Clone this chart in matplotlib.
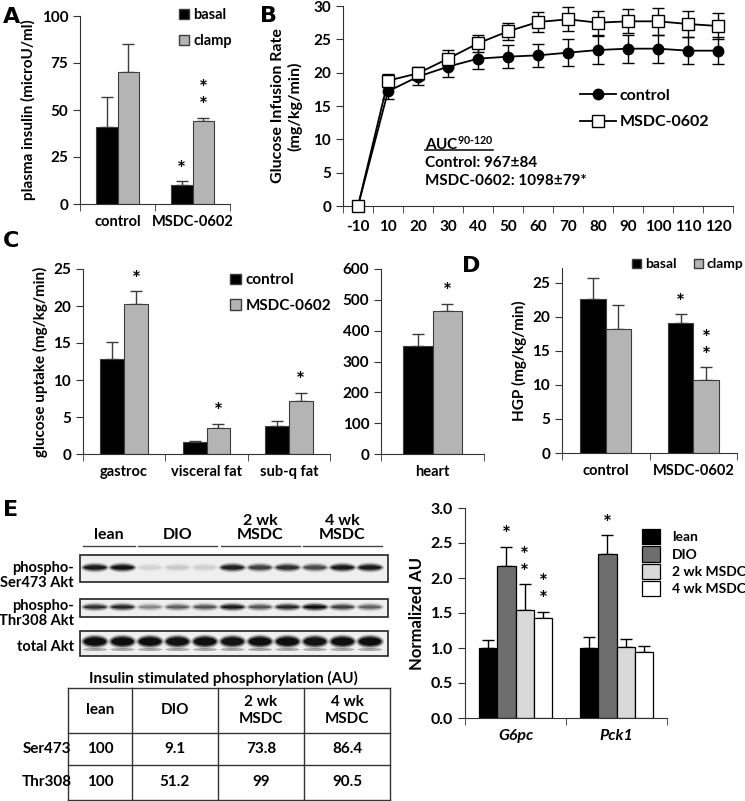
import matplotlib
matplotlib.use('Agg')
import matplotlib.pyplot as plt
from matplotlib.patches import Rectangle, Ellipse, Patch
import numpy as np

plt.rcParams['font.family'] = ['Lato', 'DejaVu Sans']
plt.rcParams['font.weight'] = 'bold'
plt.rcParams['axes.labelweight'] = 'bold'
plt.rcParams['font.size'] = 10.5
plt.rcParams['mathtext.fontset'] = 'custom'
plt.rcParams['mathtext.rm'] = 'Lato:bold'
plt.rcParams['mathtext.it'] = 'Lato:bold:italic'
plt.rcParams['mathtext.bf'] = 'Lato:bold'

W, H = 745, 801
GRAY = '#b4b4b4'
EDGE = '#3c3c3c'

# ---- A: plasma insulin
a_groups = ['control', 'MSDC-0602']
a_basal = [41, 10]
a_basal_err = [16, 2]
a_clamp = [70, 44]
a_clamp_err = [15, 2]
a_stars_basal = [0, 1]
a_stars_clamp = [0, 2]

# ---- B: glucose infusion rate
b_time = ['-10', '10', '20', '30', '40', '50', '60', '70', '80', '90', '100', '110', '120']
b_ctrl = [0, 17.2, 19.4, 20.9, 22.1, 22.4, 22.6, 23.0, 23.4, 23.6, 23.6, 23.3, 23.3]
b_ctrl_err = [0, 1.2, 1.3, 1.6, 1.6, 1.7, 1.7, 2.0, 2.1, 2.1, 2.1, 2.0, 2.0]
b_msdc = [0, 18.8, 19.9, 22.1, 24.4, 26.2, 27.6, 28.0, 27.5, 27.7, 27.7, 27.3, 27.0]
b_msdc_err = [0, 1.0, 1.0, 1.3, 1.3, 1.3, 1.5, 1.8, 1.8, 1.8, 2.0, 2.0, 2.0]
b_auc_text = ['Control: 967\u00b184', 'MSDC-0602: 1098\u00b179*']

# ---- C: glucose uptake
c_tissues = ['gastroc', 'visceral fat', 'sub-q fat']
c_ctrl = [12.9, 1.6, 3.8]
c_ctrl_err = [2.3, 0.2, 0.7]
c_msdc = [20.3, 3.5, 7.2]
c_msdc_err = [1.7, 0.6, 1.1]
c_heart = ['heart']
c_heart_ctrl = [350]
c_heart_ctrl_err = [40]
c_heart_msdc = [465]
c_heart_msdc_err = [22]

# ---- D: HGP
d_groups = ['control', 'MSDC-0602']
d_basal = [22.7, 19.1]
d_basal_err = [3.1, 1.3]
d_clamp = [18.3, 10.8]
d_clamp_err = [3.5, 1.8]
d_stars_basal = [0, 1]
d_stars_clamp = [0, 2]

# ---- E: gene expression
e_genes = ['G6pc', 'Pck1']
e_series = ['lean', 'DIO', '2 wk MSDC', '4 wk MSDC']
e_colors = ['black', '#6e6e6e', '#d9d9d9', 'white']
e_vals = [[1.0, 1.0], [2.17, 2.35], [1.55, 1.02], [1.43, 0.94]]
e_errs = [[0.12, 0.16], [0.28, 0.26], [0.36, 0.11], [0.09, 0.09]]
e_stars = [[0, 0], [1, 1], [2, 0], [2, 0]]

# ---- E: western blot + table
blot_groups = ['lean', 'DIO', '2 wk\nMSDC', '4 wk\nMSDC']
blot_lanes = [2, 3, 3, 3]
blot_rows = ['phospho-\nSer473 Akt', 'phospho-\nThr308 Akt', 'total Akt']
ser473_bands = [0.85, 0.9, 0.07, 0.1, 0.08, 0.8, 0.6, 0.7, 0.55, 0.85, 0.85]
thr308_bands = [0.7, 0.75, 0.3, 0.45, 0.5, 0.85, 0.5, 0.75, 0.95, 0.6, 0.45]
total_bands = [0.95, 0.95, 0.95, 0.92, 0.95, 0.9, 0.95, 0.95, 0.9, 0.95, 0.95]
tbl_title = 'Insulin stimulated phosphorylation (AU)'
tbl_cols = ['lean', 'DIO', '2 wk\nMSDC', '4 wk\nMSDC']
tbl_rows = ['Ser473', 'Thr308']
tbl_ser473 = ['100', '9.1', '73.8', '86.4']
tbl_thr308 = ['100', '51.2', '99', '90.5']


def px_axes(fig, left, top, right, bottom):
    return fig.add_axes([left / W, 1 - bottom / H, (right - left) / W, (bottom - top) / H])


def style(ax, n):
    for s in ['top', 'right']:
        ax.spines[s].set_visible(False)
    for s in ['left', 'bottom']:
        ax.spines[s].set_color('#333333')
    ax.set_xlim(-0.5, n - 0.5)
    ax.set_xticks(np.arange(n))
    ax.set_xticks(np.arange(n + 1) - 0.5, minor=True)
    ax.tick_params(axis='x', which='major', length=0, pad=8)
    ax.tick_params(axis='x', which='minor', length=5, color='#333333')
    ax.tick_params(axis='y', length=5, color='#333333', labelsize=11)


def stars(ax, x, top, n, size=15):
    # stacked significance asterisks, one text object per bar
    if n == 0:
        return
    ax.annotate('\n'.join(['*'] * n), (x, top), xytext=(0, 1), textcoords='offset points',
                ha='center', va='bottom', fontsize=size, fontweight='bold', linespacing=0.8)


def pair_bars(ax, v1, e1, v2, e2, w, c1='black', c2=GRAY):
    x = np.arange(len(v1))
    ax.bar(x - w / 2, v1, w, color=c1, edgecolor=EDGE, lw=0.8, zorder=2)
    ax.bar(x + w / 2, v2, w, color=c2, edgecolor=EDGE, lw=0.8, zorder=2)
    ax.errorbar(x - w / 2, v1, yerr=[np.zeros(len(v1)), e1], fmt='none', ecolor=EDGE,
                elinewidth=1, capsize=4, capthick=1, zorder=1)
    ax.errorbar(x + w / 2, v2, yerr=[np.zeros(len(v2)), e2], fmt='none', ecolor=EDGE,
                elinewidth=1, capsize=4, capthick=1, zorder=1)
    return x


def sq(c):
    return Patch(facecolor=c, edgecolor=EDGE)


fig = plt.figure(figsize=(W / 100, H / 100), dpi=100)

# ---------- A
ax = px_axes(fig, 80, 16, 230, 204)
w = 0.29
x = pair_bars(ax, a_basal, a_basal_err, a_clamp, a_clamp_err, w)
style(ax, 2)
ax.set_xticklabels(a_groups)
ax.set_ylim(0, 100)
ax.set_yticks([0, 25, 50, 75, 100])
ax.set_ylabel('plasma insulin (microU/ml)', fontsize=11)
for i in range(2):
    stars(ax, x[i] - w / 2, a_basal[i] + a_basal_err[i], a_stars_basal[i])
    stars(ax, x[i] + w / 2, a_clamp[i] + a_clamp_err[i], a_stars_clamp[i])
ax.legend([sq('black'), sq(GRAY)], ['basal', 'clamp'], loc='center left',
          bbox_to_anchor=(0.57, 0.935), frameon=False, fontsize=10.5,
          handlelength=0.7, handleheight=0.7, handletextpad=0.3, labelspacing=0.85)

# ---------- B
ax = px_axes(fig, 343, 6, 733, 206)
xb = np.arange(len(b_time))
ax.errorbar(xb, b_ctrl, yerr=b_ctrl_err, color='black', lw=1.3, marker='o', ms=7.5,
            mfc='black', mec='black', capsize=4, elinewidth=1, capthick=1, clip_on=False,
            label='control', zorder=3)
ax.errorbar(xb, b_msdc, yerr=b_msdc_err, color='black', lw=1.3, marker='s', ms=8.5,
            mfc='white', mec='black', mew=1, capsize=4, elinewidth=1, capthick=1, clip_on=False,
            label='MSDC-0602', zorder=4)
style(ax, len(b_time))
ax.set_xticklabels(b_time, fontsize=11)
ax.tick_params(axis='x', which='major', pad=10)
ax.set_ylim(0, 30)
ax.set_yticks(range(0, 31, 5))
ax.set_ylabel('Glucose Infusion Rate\n(mg/kg/min)', fontsize=11.5, labelpad=8)
h, l = ax.get_legend_handles_labels()
ax.legend([hh[0] for hh in h], l, loc='center left', bbox_to_anchor=(0.57, 0.485),
          frameon=False, fontsize=11.5, handlelength=2.3, handletextpad=0.2, labelspacing=0.75)
auc = ax.text(0.209, 0.28, r'AUC$^{90\text{-}120}$', transform=ax.transAxes, fontsize=11,
              ha='left', va='baseline')
for k, t in enumerate(b_auc_text):
    ax.text(0.209, 0.215 - k * 0.09, t, transform=ax.transAxes, fontsize=11, ha='left',
            va='center')

# ---------- C
ax = px_axes(fig, 83, 269, 330, 454)
x = pair_bars(ax, c_ctrl, c_ctrl_err, c_msdc, c_msdc_err, w)
style(ax, 3)
ax.set_xticklabels(c_tissues)
ax.set_ylim(0, 25)
ax.set_yticks(range(0, 26, 5))
ax.set_ylabel('glucose uptake (mg/kg/min)', fontsize=11)
for i in range(3):
    stars(ax, x[i] + w / 2, c_msdc[i] + c_msdc_err[i], 1)
ax.legend([sq('black'), sq(GRAY)], ['control', 'MSDC-0602'], loc='center left',
          bbox_to_anchor=(0.54, 0.87), frameon=False, fontsize=11,
          handlelength=0.7, handleheight=0.7, handletextpad=0.3, labelspacing=0.75)

ax = px_axes(fig, 381, 269, 484, 454)
x = pair_bars(ax, c_heart_ctrl, c_heart_ctrl_err, c_heart_msdc, c_heart_msdc_err, 0.29)
style(ax, 1)
ax.set_xticklabels(c_heart)
ax.set_ylim(0, 600)
ax.set_yticks(range(0, 601, 100))
stars(ax, x[0] + 0.29 / 2, c_heart_msdc[0] + c_heart_msdc_err[0], 1)

# ---------- D
ax = px_axes(fig, 562, 268, 737, 453)
x = pair_bars(ax, d_basal, d_basal_err, d_clamp, d_clamp_err, w)
style(ax, 2)
ax.set_xticklabels(d_groups)
ax.set_ylim(0, 27.2)
ax.set_yticks(range(0, 26, 5))
ax.set_ylabel('HGP (mg/kg/min)', fontsize=11)
for i in range(2):
    stars(ax, x[i] - w / 2, d_basal[i] + d_basal_err[i], d_stars_basal[i])
    stars(ax, x[i] + w / 2, d_clamp[i] + d_clamp_err[i], d_stars_clamp[i])
ax.legend([sq('black'), sq(GRAY)], ['basal', 'clamp'], loc='center left',
          bbox_to_anchor=(0.33, 1.02), frameon=False, ncol=2, fontsize=10,
          handlelength=0.65, handleheight=0.65, handletextpad=0.25, columnspacing=1.3)

# ---------- E bars
ax = px_axes(fig, 465, 508, 667, 718)
xe = np.arange(len(e_genes))
bw = 0.183
for j, name in enumerate(e_series):
    off = (j - 1.5) * bw
    ax.bar(xe + off, e_vals[j], bw, color=e_colors[j], edgecolor='black', lw=0.9, label=name,
           zorder=2)
    ax.errorbar(xe + off, e_vals[j], yerr=[np.zeros(2), e_errs[j]], fmt='none', ecolor='black',
                elinewidth=1, capsize=4, capthick=1, zorder=1)
    for i in range(2):
        stars(ax, xe[i] + off, e_vals[j][i] + e_errs[j][i], e_stars[j][i])
style(ax, 2)
ax.set_xticklabels(e_genes, style='italic', fontsize=11.5)
ax.set_ylim(0, 3)
ax.set_yticks(np.arange(0, 3.01, 0.5))
ax.set_yticklabels(['%.1f' % v for v in np.arange(0, 3.01, 0.5)], fontsize=11.5)
ax.set_ylabel('Normalized AU', fontsize=12)
ax.legend(loc='upper left', bbox_to_anchor=(0.83, 0.945), frameon=False, fontsize=10,
          handlelength=1.3, handleheight=1.3, handletextpad=0.85, labelspacing=0.15,
          borderpad=0.2)

# ---------- overlay: panel letters, blot, table
ov = fig.add_axes([0, 0, 1, 1])
ov.set_xlim(0, W)
ov.set_ylim(H, 0)
ov.axis('off')
ov.patch.set_visible(False)
for letter, (lx, ly) in zip('ABCDE', [(3, 17), (260, 16), (3, 241), (462, 266), (3, 510)]):
    ov.text(lx, ly, letter, fontsize=16, fontweight='bold', ha='left', va='center',
            family='DejaVu Sans')

# underline under the AUC heading
fig.canvas.draw()
bb = auc.get_window_extent()
ov.plot([bb.x0 * W / fig.bbox.width, bb.x1 * W / fig.bbox.width], [150, 150], color='black', lw=1.1)

# blot
blot_x0, blot_x1 = 80, 388
lane_x = np.linspace(95, 370, sum(blot_lanes))
row_box = [(555, 582), (599, 617), (631, 656)]
row_label_y = [575.5, 613.5, 647]
row_bands = [ser473_bands, thr308_bands, total_bands]
row_h = [6, 5, 10]
for (y0, y1), bands, bh, lab, ly in zip(row_box, row_bands, row_h, blot_rows, row_label_y):
    ov.add_patch(Rectangle((blot_x0, y0), blot_x1 - blot_x0, y1 - y0, facecolor='#efefef',
                           edgecolor='#222222', lw=1.2))
    yc = (y0 + y1) / 2 - (1 if bh < 10 else 2)
    for xc, inten in zip(lane_x, bands):
        for sw, sh, a in [(28, bh + 4, 0.25), (25, bh + 1, 0.5), (22, bh - 2, 0.9)]:
            ov.add_patch(Ellipse((xc, yc), sw, sh, facecolor='black', alpha=a * inten, lw=0))
        if bh >= 10:
            ov.add_patch(Ellipse((xc, yc + 8), 24, 3, facecolor='black', alpha=0.3, lw=0))
    ov.text(74, ly, lab, fontsize=10.5, ha='right', va='center', linespacing=1.05)

start = 0
for g, n in zip(blot_groups, blot_lanes):
    xs = lane_x[start:start + n]
    x_lo, x_hi = xs[0] - 12, xs[-1] + 12
    ov.plot([x_lo, x_hi], [546, 546], color='#444444', lw=1)
    ov.text((x_lo + x_hi) / 2, 542, g, fontsize=11.5, ha='center', va='bottom', linespacing=1.0)
    start += n

# table
col_edges = [68, 132, 218, 304, 390]
row_edges = [688, 733, 765, 799.5]
ov.text(223, 678, tbl_title, fontsize=11, ha='center', va='center')
for xe_ in col_edges:
    ov.plot([xe_, xe_], [row_edges[0], row_edges[-1]], color='#333333', lw=1)
for ye_ in row_edges:
    ov.plot([col_edges[0], col_edges[-1]], [ye_, ye_], color='#333333', lw=1)
for i, c in enumerate(tbl_cols):
    cx = (col_edges[i] + col_edges[i + 1]) / 2
    ov.text(cx, (row_edges[0] + row_edges[1]) / 2, c, fontsize=11, ha='center', va='center',
            linespacing=1.2)
    for r, vals in enumerate([tbl_ser473, tbl_thr308]):
        ov.text(cx, (row_edges[r + 1] + row_edges[r + 2]) / 2, vals[i], fontsize=11,
                ha='center', va='center')
for r, name in enumerate(tbl_rows):
    ov.text(47, (row_edges[r + 1] + row_edges[r + 2]) / 2, name, fontsize=11, ha='center',
            va='center')

fig.savefig('out.png', dpi=100)
